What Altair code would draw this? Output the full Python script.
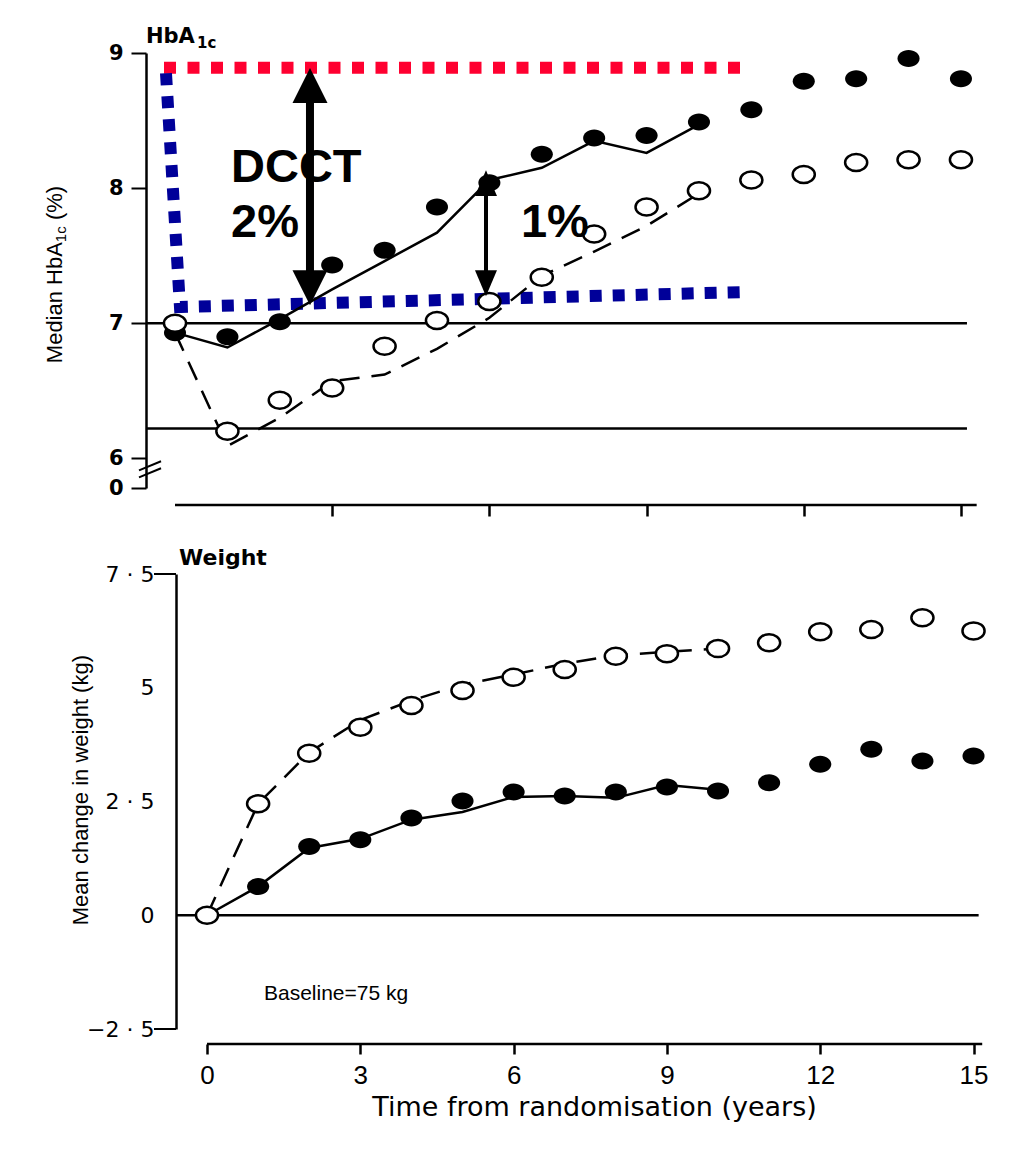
import altair as alt
import pandas as pd

# ---------------- data ----------------
years = list(range(16))
hba_conv = [6.93, 6.90, 7.01, 7.43, 7.54, 7.86, 8.04, 8.25, 8.37, 8.39, 8.49, 8.58, 8.79, 8.81, 8.96, 8.81]
hba_int = [7.00, 6.20, 6.43, 6.52, 6.83, 7.02, 7.16, 7.34, 7.66, 7.86, 7.98, 8.06, 8.10, 8.19, 8.21, 8.21]
line_years = list(range(11))
hba_conv_line = [6.93, 6.82, 7.03, 7.25, 7.46, 7.67, 8.06, 8.15, 8.35, 8.26, 8.47]
hba_int_line = [6.93, 6.09, 6.30, 6.57, 6.62, 6.81, 7.04, 7.35, 7.53, 7.72, 7.96]

wt_conv = [0.0, 0.63, 1.51, 1.66, 2.14, 2.51, 2.71, 2.62, 2.71, 2.82, 2.73, 2.91, 3.32, 3.65, 3.39, 3.50]
wt_int = [0.0, 2.45, 3.56, 4.13, 4.61, 4.94, 5.23, 5.40, 5.69, 5.75, 5.86, 5.99, 6.23, 6.28, 6.54, 6.25]
wt_conv_line = [0.0, 0.63, 1.48, 1.68, 2.10, 2.27, 2.60, 2.62, 2.58, 2.86, 2.76]
wt_int_line = [0.0, 2.45, 3.58, 4.29, 4.72, 5.07, 5.29, 5.53, 5.71, 5.79, 5.86]

x_ticks = [0, 3, 6, 9, 12, 15]
hba_ticks = [5.78, 6, 7, 8, 9]
wt_ticks = [-2.5, 0, 2.5, 5, 7.5]

# ---------------- styling ----------------
SANS = "Liberation Sans"
DV = "DejaVu Sans"
ELLIPSE = "M-1.3,0A1.3,1,0,1,0,1.3,0A1.3,1,0,1,0,-1.3,0Z"
UP = "M0,0L1,2L-1,2Z"
DOWN = "M0,0L1,-2L-1,-2Z"
UP_S = "M0,0L1,2.36L-1,2.36Z"
DOWN_S = "M0,0L1,-2.36L-1,-2.36Z"

W = 808
H1 = 435
H2 = 455

xs1 = alt.Scale(domain=[0.019, 15.44], nice=False, zero=False)
ys1 = alt.Scale(domain=[5.78, 9.0], nice=False, zero=False)
xs2 = alt.Scale(domain=[-0.607, 15.205], nice=False, zero=False)
ys2 = alt.Scale(domain=[-2.5, 7.5], nice=False, zero=False)

ax_x1 = alt.Axis(values=x_ticks, labels=False, domain=False, offset=17, tickSize=11,
                 tickWidth=2.5, tickColor="black", title=None, grid=False)
ax_y1 = alt.Axis(values=hba_ticks, offset=30, tickSize=15, tickWidth=2, tickColor="black",
                 domainColor="black", domainWidth=2.5, grid=False, title=None,
                 labelExpr="datum.value < 5.9 ? '0' : format(datum.value, 'd')",
                 labelFont=DV, labelFontSize=21, labelFontWeight="bold", labelColor="black",
                 labelPadding=8)
ax_x2 = alt.Axis(values=x_ticks, domain=False, offset=15, tickSize=10, tickWidth=2.5,
                 tickColor="black", grid=False, labelFont=SANS, labelFontSize=26,
                 labelColor="black", labelPadding=8, labelFlush=False,
                 title="Time from randomisation (years)", titleFont=DV, titleFontSize=27,
                 titleFontWeight="normal", titleColor="black", titlePadding=6, titleX=418)
ax_y2 = alt.Axis(values=wt_ticks, ticks=False, domainColor="black", domainWidth=2.5,
                 grid=False, title=None, labelFont=DV, labelFontSize=22, labelColor="black",
                 labelPadding=22,
                 labelExpr="datum.value == 7.5 ? '7 · 5' : datum.value == 2.5 ? '2 · 5' : datum.value == -2.5 ? '\u22122 · 5' : format(datum.value, 'd')")


def enc1(xf="x", yf="y"):
    return dict(x=alt.X(f"{xf}:Q", scale=xs1, axis=ax_x1), y=alt.Y(f"{yf}:Q", scale=ys1, axis=ax_y1))


def enc2(xf="x", yf="y"):
    return dict(x=alt.X(f"{xf}:Q", scale=xs2, axis=ax_x2), y=alt.Y(f"{yf}:Q", scale=ys2, axis=ax_y2))


# ---------------- top panel (HbA1c) ----------------
pts1 = pd.DataFrame({"x": years, "conv": hba_conv, "int": hba_int})
lines1 = pd.DataFrame({"x": line_years, "conv": hba_conv_line, "int": hba_int_line})
hrules1 = pd.DataFrame({"x": [-0.554, -0.554], "x2": [15.115, 15.115], "y": [7.0, 6.22]})
xline1 = pd.DataFrame({"x": [0.0], "x2": [15.3]})
breaks1 = pd.DataFrame({"x": [-0.687, -0.687], "x2": [-0.267, -0.267],
                        "y": [5.911, 5.859], "y2": [5.978, 5.926]})
red1 = pd.DataFrame({"x": [-0.21], "x2": [10.954], "y": [8.89]})
blue1 = pd.DataFrame({"o": [0, 1, 2], "x": [-0.172, 0.095, 10.802], "y": [8.85, 7.12, 7.23]})
big_arrow = pd.DataFrame({"x": [2.576], "y": [8.70], "y2": [7.32]})
big_up = pd.DataFrame({"x": [2.576], "y": [8.889]})
big_down = pd.DataFrame({"x": [2.576], "y": [7.133]})
small_arrow = pd.DataFrame({"x": [5.935], "y": [8.03], "y2": [7.30]})
small_up = pd.DataFrame({"x": [5.935], "y": [8.133]})
small_down = pd.DataFrame({"x": [5.935], "y": [7.20]})
labels1 = pd.DataFrame({"x": [1.069, 1.069, 6.603], "y": [8.044, 7.637, 7.637],
                        "t": ["DCCT", "2%", "1%"]})
title1a = pd.DataFrame({"x": [-0.554], "y": [9.074], "t": ["HbA"]})
title1b = pd.DataFrame({"x": [0.42], "y": [9.035], "t": ["1c"]})
ytitle1a = pd.DataFrame({"x": [-2.290], "y": [6.704], "t": ["Median HbA"]})
ytitle1b = pd.DataFrame({"x": [-2.176], "y": [7.600], "t": ["1c"]})
ytitle1c = pd.DataFrame({"x": [-2.290], "y": [7.763], "t": ["(%)"]})

top_layers = [
    alt.Chart(hrules1).mark_rule(color="black", strokeWidth=2.5).encode(**enc1(), x2="x2:Q"),
    alt.Chart(xline1).mark_rule(color="black", strokeWidth=2.5).encode(
        x=alt.X("x:Q", scale=xs1, axis=ax_x1), x2="x2:Q", y=alt.value(H1 + 17)),
    alt.Chart(breaks1).mark_rule(color="black", strokeWidth=2).encode(**enc1(), x2="x2:Q", y2="y2:Q"),
    alt.Chart(red1).mark_rule(color="#ff0030", strokeWidth=12, strokeDash=[12, 11.5],
                              strokeCap="butt").encode(**enc1(), x2="x2:Q"),
    alt.Chart(blue1).mark_line(color="#000099", strokeWidth=12, strokeDash=[12, 11],
                               strokeCap="butt", strokeJoin="miter").encode(**enc1(), order="o:Q"),
    alt.Chart(lines1).mark_line(color="black", strokeWidth=2.5).encode(**enc1(yf="conv")),
    alt.Chart(lines1).mark_line(color="black", strokeWidth=2.5, strokeDash=[20, 12]).encode(**enc1(yf="int")),
    alt.Chart(pts1).mark_point(shape=ELLIPSE, size=289, filled=True, fill="black", strokeWidth=0,
                               opacity=1).encode(**enc1(yf="conv")),
    alt.Chart(pts1).mark_point(shape=ELLIPSE, size=289, filled=True, fill="white", stroke="black",
                               strokeWidth=2.5, opacity=1).encode(**enc1(yf="int")),
    alt.Chart(labels1).mark_text(font=SANS, fontSize=47, fontWeight="bold", color="black",
                                 align="left", baseline="alphabetic").encode(**enc1(), text="t:N"),
    alt.Chart(big_arrow).mark_rule(color="black", strokeWidth=8).encode(**enc1(), y2="y2:Q"),
    alt.Chart(big_up).mark_point(shape=UP, size=1225, filled=True, fill="black", strokeWidth=0,
                                 opacity=1).encode(**enc1()),
    alt.Chart(big_down).mark_point(shape=DOWN, size=1225, filled=True, fill="black", strokeWidth=0,
                                   opacity=1).encode(**enc1()),
    alt.Chart(small_arrow).mark_rule(color="black", strokeWidth=4).encode(**enc1(), y2="y2:Q"),
    alt.Chart(small_up).mark_point(shape=UP_S, size=484, filled=True, fill="black", strokeWidth=0,
                                   opacity=1).encode(**enc1()),
    alt.Chart(small_down).mark_point(shape=DOWN_S, size=484, filled=True, fill="black", strokeWidth=0,
                                     opacity=1).encode(**enc1()),
    alt.Chart(title1a).mark_text(font=DV, fontSize=21, fontWeight="bold", color="black",
                                 align="left", baseline="alphabetic").encode(**enc1(), text="t:N"),
    alt.Chart(title1b).mark_text(font=DV, fontSize=15, fontWeight="bold", color="black",
                                 align="left", baseline="alphabetic").encode(**enc1(), text="t:N"),
    alt.Chart(ytitle1a).mark_text(font=SANS, fontSize=22, color="black", angle=270,
                                  align="left", baseline="middle").encode(**enc1(), text="t:N"),
    alt.Chart(ytitle1b).mark_text(font=SANS, fontSize=15, color="black", angle=270,
                                  align="left", baseline="middle").encode(**enc1(), text="t:N"),
    alt.Chart(ytitle1c).mark_text(font=SANS, fontSize=22, color="black", angle=270,
                                  align="left", baseline="middle").encode(**enc1(), text="t:N"),
]
top = alt.layer(*top_layers).properties(width=W, height=H1)

# ---------------- bottom panel (Weight) ----------------
pts2 = pd.DataFrame({"x": years, "conv": wt_conv, "int": wt_int})
lines2 = pd.DataFrame({"x": line_years, "conv": wt_conv_line, "int": wt_int_line})
zero2 = pd.DataFrame({"x": [-0.607], "x2": [15.1], "y": [0.0]})
xline2 = pd.DataFrame({"x": [0.0], "x2": [15.17]})
ticks2 = pd.DataFrame({"x": [-1.037, -1.037], "x2": [-0.607, -0.607], "y": [7.5, -2.5]})
title2 = pd.DataFrame({"x": [-0.548], "y": [7.70], "t": ["Weight"]})
base2 = pd.DataFrame({"x": [1.115], "y": [-1.72], "t": ["Baseline=75 kg"]})
ytitle2 = pd.DataFrame({"x": [-2.466], "y": [2.75], "t": ["Mean change in weight (kg)"]})

bottom_layers = [
    alt.Chart(zero2).mark_rule(color="black", strokeWidth=2.5).encode(**enc2(), x2="x2:Q"),
    alt.Chart(xline2).mark_rule(color="black", strokeWidth=2.5).encode(
        x=alt.X("x:Q", scale=xs2, axis=ax_x2), x2="x2:Q", y=alt.value(H2 + 15)),
    alt.Chart(ticks2).mark_rule(color="black", strokeWidth=2).encode(**enc2(), x2="x2:Q"),
    alt.Chart(lines2).mark_line(color="black", strokeWidth=2.5).encode(**enc2(yf="conv")),
    alt.Chart(lines2).mark_line(color="black", strokeWidth=2.5, strokeDash=[20, 12]).encode(**enc2(yf="int")),
    alt.Chart(pts2).mark_point(shape=ELLIPSE, size=289, filled=True, fill="black", strokeWidth=0,
                               opacity=1).encode(**enc2(yf="conv")),
    alt.Chart(pts2).mark_point(shape=ELLIPSE, size=289, filled=True, fill="white", stroke="black",
                               strokeWidth=2.5, opacity=1).encode(**enc2(yf="int")),
    alt.Chart(title2).mark_text(font=DV, fontSize=22, fontWeight="bold", color="black",
                                align="left", baseline="alphabetic").encode(**enc2(), text="t:N"),
    alt.Chart(base2).mark_text(font=SANS, fontSize=21, color="black",
                               align="left", baseline="middle").encode(**enc2(), text="t:N"),
    alt.Chart(ytitle2).mark_text(font=SANS, fontSize=22, color="black", angle=270,
                                 align="center", baseline="middle").encode(**enc2(), text="t:N"),
]
bottom = alt.layer(*bottom_layers).properties(width=W, height=H2)

chart = alt.vconcat(top, bottom, spacing=28).properties(
    padding={"left": 36, "top": 18, "right": 5, "bottom": 5},
    background="white",
).configure_view(stroke=None, strokeWidth=0)

chart.save("out.html", embed_options={"renderer": "svg", "actions": False})
